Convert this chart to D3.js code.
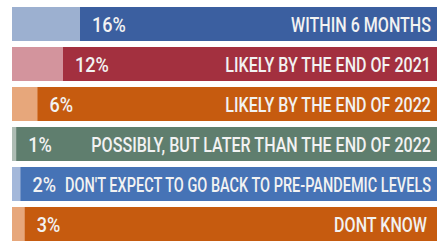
<!DOCTYPE html>
<html><head><meta charset="utf-8">
<script src="https://cdn.jsdelivr.net/npm/d3@7"></script>
<style>
html,body{margin:0;padding:0;background:#fff;}
svg{display:block;}
text{font-family:Roboto,"DejaVu Sans",sans-serif;font-weight:500;}
</style></head>
<body>
<svg id="chart" width="438" height="243"></svg>
<script>
const categories = [
  "WITHIN 6 MONTHS",
  "LIKELY BY THE END OF 2021",
  "LIKELY BY THE END OF 2022",
  "POSSIBLY, BUT LATER THAN THE END OF 2022",
  "DON'T EXPECT TO GO BACK TO PRE-PANDEMIC LEVELS",
  "DONT KNOW"
];
const values = [16, 12, 6, 1, 2, 3];
const darkColors  = ["#3b5fa0", "#a3303f", "#c65b0f", "#5f7e6e", "#4673b6", "#c65b0f"];
const lightColors = ["#9cb0d0", "#d3949d", "#e7a77b", "#aebcb4", "#a4b8da", "#e7a77b"];

const svg = d3.select("#chart");
const x = d3.scaleLinear().domain([0, 100]).range([12, 437]);
const y = d3.scaleBand().domain(d3.range(categories.length)).range([7, 241]).paddingInner(0.15).paddingOuter(0);
const condenseLab = 0.765;
const condensePct = 0.86;

const rows = svg.selectAll("g.row").data(categories).join("g").attr("class", "row")
  .attr("transform", (d, i) => `translate(0,${y(i)})`);

rows.append("rect").attr("x", x(0)).attr("y", 0)
  .attr("width", x(100) - x(0)).attr("height", y.bandwidth())
  .attr("fill", (d, i) => darkColors[i]);
rows.append("rect").attr("x", x(0)).attr("y", 0)
  .attr("width", (d, i) => x(values[i]) - x(0)).attr("height", y.bandwidth())
  .attr("fill", (d, i) => lightColors[i]);

const fs = 21;
const base = y.bandwidth() / 2 + 7.5;

const pct = rows.append("text").attr("class", "pct")
  .attr("x", (d, i) => x(values[i]) + 12)
  .attr("y", base)
  .attr("fill", "#f2f2f2").attr("font-size", fs)
  .text((d, i) => values[i] + "%");

const lab = rows.append("text").attr("class", "lab")
  .attr("x", (d, i) => i === categories.length - 1 ? 427 : 431)
  .attr("y", base)
  .attr("text-anchor", "end")
  .attr("fill", "#f2f2f2").attr("font-size", fs)
  .text(d => d);

pct.each(function() {
  const len = this.getComputedTextLength();
  d3.select(this).attr("textLength", len * condensePct).attr("lengthAdjust", "spacingAndGlyphs");
});
lab.each(function(d, i) {
  const p = pct.nodes()[i];
  const pEnd = +p.getAttribute("x") + +p.getAttribute("textLength");
  const avail = +this.getAttribute("x") - pEnd - 9;
  const len = Math.min(this.getComputedTextLength() * condenseLab, avail);
  d3.select(this).attr("textLength", len).attr("lengthAdjust", "spacingAndGlyphs");
});
</script>
</body></html>
